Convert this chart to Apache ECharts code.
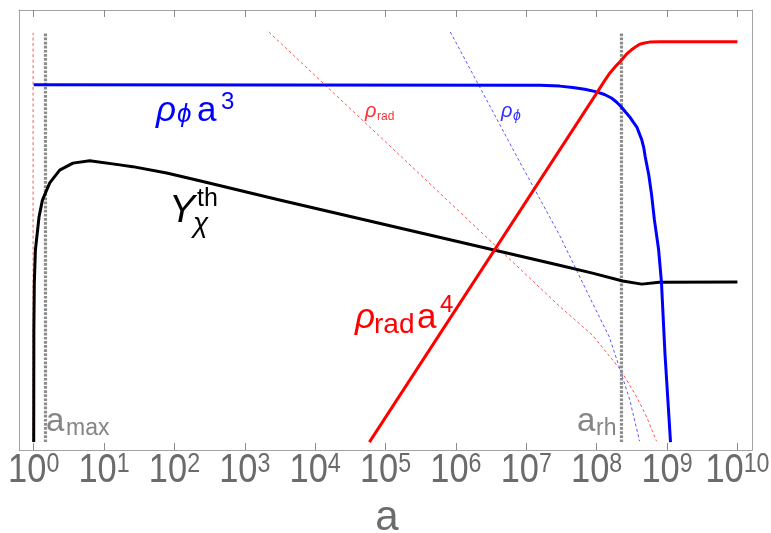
<!DOCTYPE html>
<html><head><meta charset="utf-8">
<script src="https://cdn.jsdelivr.net/npm/echarts@6/dist/echarts.min.js"></script>
<style>html,body{margin:0;padding:0;background:#fff}#c{width:771px;height:533px}</style>
</head><body><div id="c"></div>
<script>
// x tick values (decimal exponents of a) and axis range (in log10 a)
const xTickExp = [0, 1, 2, 3, 4, 5, 6, 7, 8, 9, 10];
const xMinExp = -0.209, xMaxExp = 10.207;

// rho_phi a^3 (blue)
const blueA = [1, 1.55e7, 2.99e7, 4.57e7, 6.76e7, 1e8, 1.29e8, 1.62e8, 1.91e8, 2.24e8, 2.57e8, 2.95e8, 3.31e8, 3.72e8, 4.07e8, 4.37e8, 4.68e8, 4.9e8, 5.5e8, 6.03e8, 6.61e8, 7.59e8, 8.32e8, 9.33e8, 1.12e9];
const blueY = [83.0, 82.9, 82.7, 82.4, 82.0, 81.4, 80.8, 80.0, 79.1, 77.95, 76.8, 75.7, 74.5, 73.4, 71.8, 70.5, 68.6, 66.6, 62.5, 58.0, 52.3, 45.5, 38.2, 22.0, 1.8];

// rho_rad a^4 (red)
const redA = [5.89e4, 1e8, 1.29e8, 1.51e8, 1.86e8, 2.24e8, 2.63e8, 3.09e8, 3.55e8, 4.07e8, 4.79e8, 5.62e8, 7.76e8, 1e10];
const redY = [1.8, 81.1, 83.9, 85.5, 87.2, 88.6, 89.9, 90.9, 91.6, 92.2, 92.5, 92.7, 92.8, 92.8];

// Y_chi^th (black)
const blackA = [1, 1.005, 1.02, 1.057, 1.19, 1.33, 1.69, 2.34, 3.61, 6.24, 16.7, 25.5, 77.5, 228, 3120, 2.95e7, 8.71e7, 2.34e8, 4.37e8, 7.76e8, 1e10];
const blackY = [1.8, 27.3, 37.95, 45.45, 52.95, 56.8, 60.7, 63.6, 65.2, 65.75, 64.8, 64.4, 62.95, 61.2, 56.8, 42.0, 40.2, 38.4, 37.7, 38.1, 38.2];

// rho_rad (thin dashed red), early branch and main branch
const radEarlyA = [0.98, 0.98];
const radEarlyY = [1.8, 94.8];
const radA = [2.19e3, 1.74e5, 2.95e7, 8.71e7, 2.19e8, 3.72e8, 5.13e8, 7.08e8];
const radY = [95.0, 66.4, 32.7, 26.1, 18.2, 12.0, 7.5, 2.0];

// rho_phi (thin dashed blue)
const phiA = [8.32e5, 7.5e6, 2.95e7, 8.71e7, 1.51e8, 2.09e8, 2.95e8, 4.07e8];
const phiY = [95.0, 66.4, 48.9, 33.4, 25.7, 18.9, 11.4, 2.0];

// vertical markers a_max, a_rh
const aMax = 1.47, aRh = 2.25e8;
const vLineY = [1.8, 95.0];

const pts = (xs, ys) => xs.map((x, i) => [Math.log10(x), ys[i]]);
const FF = '"Liberation Sans", Arial, sans-serif';
const tickColor = '#6b6b6b';

function lineSeries(data, color, width, type, z) {
  return {
    type: 'line', data: data, showSymbol: false, symbol: 'none', animation: false,
    lineStyle: { color: color, width: width, type: type || 'solid', cap: 'butt', join: 'round' },
    z: z || 2, silent: true
  };
}

function txt(x, y, text, size, color, italic) {
  return {
    type: 'text', x: x, y: y, silent: true, z: 100,
    style: {
      text: text, fill: color, fontSize: size, fontFamily: FF,
      fontStyle: italic ? 'italic' : 'normal', align: 'left', verticalAlign: 'middle'
    }
  };
}

const chart = echarts.init(document.getElementById('c'), null, { renderer: 'canvas' });

const frameLine = { show: true, onZero: false, lineStyle: { color: '#a3a3a3', width: 1 } };
const xBase = {
  type: 'value', min: xMinExp, max: xMaxExp,
  axisLine: frameLine, splitLine: { show: false }, minorTick: { show: false },
  axisTick: { show: true, inside: true, length: 7, customValues: xTickExp, lineStyle: { color: '#8a8a8a', width: 1 } },
  axisLabel: { show: false }
};

chart.setOption({
  animation: false,
  grid: { left: 19, right: 19, top: 10, bottom: 83, containLabel: false },
  xAxis: [
    Object.assign({}, xBase, { position: 'bottom' }),
    Object.assign({}, xBase, { position: 'top' })
  ],
  yAxis: [
    { type: 'value', min: 0, max: 100, position: 'left', axisLine: frameLine, axisTick: { show: false }, axisLabel: { show: false }, splitLine: { show: false } },
    { type: 'value', min: 0, max: 100, position: 'right', axisLine: frameLine, axisTick: { show: false }, axisLabel: { show: false }, splitLine: { show: false } }
  ],
  series: [
    lineSeries(pts(radEarlyA, radEarlyY), 'rgba(255,60,60,0.85)', 1, [3, 2.5], 1),
    lineSeries(pts(radA, radY), 'rgba(255,60,60,0.85)', 1, [3, 2.5], 1),
    lineSeries(pts(phiA, phiY), 'rgba(60,60,255,0.85)', 1, [3, 2.5], 1),
    lineSeries(pts([aMax, aMax], vLineY), '#8c8c8c', 3.2, [2.7, 1.4], 1),
    lineSeries(pts([aRh, aRh], vLineY), '#8c8c8c', 3.2, [2.7, 1.4], 1),
    lineSeries(pts(blackA, blackY), '#000000', 3, 'solid', 3),
    lineSeries(pts(blueA, blueY), '#0000ff', 3, 'solid', 4),
    lineSeries(pts(redA, redY), '#ff0000', 3, 'solid', 5)
  ]
});

// tick labels 10^n, placed at the axis' own tick positions
const tickLabels = xTickExp.map(function (e) {
  const px = chart.convertToPixel({ xAxisIndex: 0 }, e);
  return {
    type: 'text', x: px, y: 451, scaleX: 0.86, silent: true, z: 100,
    style: {
      text: '{b|10}{s|' + e + '}', align: 'center', verticalAlign: 'top',
      rich: {
        b: { fontSize: 40, fontFamily: FF, fill: tickColor, lineHeight: 40, verticalAlign: 'middle' },
        s: { fontSize: 27, fontFamily: FF, fill: tickColor, lineHeight: 32, verticalAlign: 'top' }
      }
    }
  };
});

chart.setOption({
  graphic: tickLabels.concat([
    // rho_phi a^3
    txt(156, 111, 'ρ', 35, '#0000ff', true),
    txt(177, 115, 'ϕ', 26, '#0000ff', true),
    txt(197, 111, 'a', 35, '#0000ff', false),
    txt(221, 102.5, '3', 24, '#0000ff', false),
    // rho_rad a^4
    txt(355, 318, 'ρ', 35, '#ff0000', true),
    txt(374, 325.3, 'rad', 28, '#ff0000', false),
    txt(417, 318, 'a', 35, '#ff0000', false),
    txt(440, 305, '4', 24, '#ff0000', false),
    // Y_chi^th
    txt(169, 211.5, 'Y', 39, '#000000', true),
    txt(193, 224.3, 'χ', 28, '#000000', true),
    txt(197, 199.3, 'th', 25, '#000000', false),
    // small rho_rad
    txt(365, 111, 'ρ', 20, '#ff3030', true),
    txt(377, 116.8, 'rad', 12, '#ff3030', false),
    // small rho_phi
    txt(501, 111, 'ρ', 20, '#3030ff', true),
    txt(513, 116.5, 'ϕ', 14, '#3030ff', true),
    // a_max, a_rh
    txt(46, 421.6, 'a', 33, '#858585', false),
    txt(66, 429, 'max', 23, '#858585', false),
    txt(577, 421.6, 'a', 33, '#858585', false),
    txt(596, 429, 'rh', 23, '#858585', false),
    // axis name
    { type: 'text', x: 387, y: 518, silent: true,
      style: { text: 'a', fill: tickColor, fontSize: 42, fontFamily: FF, align: 'center', verticalAlign: 'middle' } }
  ])
});
</script>
</body></html>
